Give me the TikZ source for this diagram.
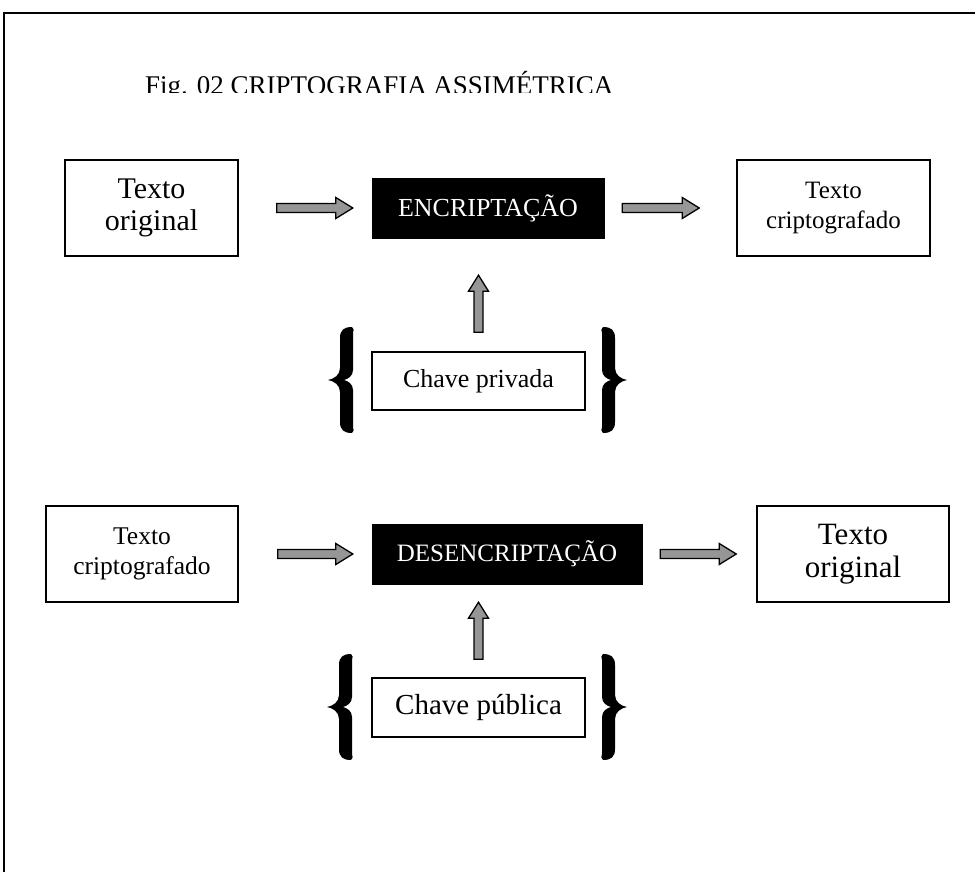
\documentclass[tikz,border=0pt]{standalone}
\usepackage{fontspec}
\setmainfont{Liberation Serif}
\definecolor{arrgray}{RGB}{150,150,150}
\tikzset{
  box/.style={draw=black, line width=1.5pt, fill=white, inner sep=0pt, align=center},
  blackbox/.style={draw=black, fill=black, text=white, inner sep=0pt, align=center},
  barrow/.style={draw=black, line width=1.3pt, fill=arrgray, line join=miter},
  lbr/.pic={
    \fill (24,-53) .. controls (16,-53) and (12,-50) .. (12,-42) -- (12,-12)
      .. controls (12,-5) and (6,-1) .. (0,0) .. controls (6,1) and (12,5) .. (12,12)
      -- (12,42) .. controls (12,50) and (16,53) .. (24,53)
      .. controls (26,52) and (26,49) .. (25,47)
      .. controls (25,46) and (25,44) .. (25,42) -- (25,10)
      .. controls (25,4) and (20,1) .. (16,0) .. controls (20,-1) and (25,-4) .. (25,-10)
      -- (25,-42) .. controls (25,-44) and (25,-46) .. (25,-47)
      .. controls (26,-49) and (26,-52) .. (24,-53) -- cycle;
  }
}
\newcommand\harr[2]{\draw[barrow] ([yshift=-4.5]#1) -- ([xshift=-17,yshift=-4.5]#2) -- ([xshift=-17,yshift=-10.5]#2) -- (#2) -- ([xshift=-17,yshift=10.5]#2) -- ([xshift=-17,yshift=4.5]#2) -- ([yshift=4.5]#1) -- cycle;}
\newcommand\varr[2]{\draw[barrow] ([xshift=-4.5]#1) -- ([xshift=-4.5,yshift=-16]#2) -- ([xshift=-10,yshift=-16]#2) -- (#2) -- ([xshift=10,yshift=-16]#2) -- ([xshift=4.5,yshift=-16]#2) -- ([xshift=4.5]#1) -- cycle;}
\begin{document}
\begin{tikzpicture}[x=1pt,y=-1pt]
\useasboundingbox (0,0) rectangle (975,872);
% frame
\draw[line width=2pt] (4,872) -- (4,13) -- (975,13);
% title (clipped at bottom)
\begin{scope}
\clip (0,0) rectangle (975,93);
\node[anchor=base west, inner sep=0pt, font=\fontsize{27}{30}\selectfont] (title) at (145,95) {Fig. 02 CRIPTOGRAFIA ASSIMÉTRICA};
\end{scope}
% top row
\node[box, minimum width=173, minimum height=96, font=\fontsize{30}{32}\selectfont] (tl) at (151.5,208) {Texto\\original};
\node[blackbox, minimum width=232, minimum height=60, font=\fontsize{26}{28}\selectfont] (enc) at (488,208) {ENCRIPTAÇÃO};
\node[box, minimum width=193, minimum height=96, font=\fontsize{25}{30}\selectfont] (tc) at (833.5,208) {Texto\\criptografado};
\node[box, minimum width=213, minimum height=58, font=\fontsize{26}{28}\selectfont] (priv) at (478.5,381) {Chave privada};
% bottom row
\node[box, minimum width=192, minimum height=96, font=\fontsize{25.5}{30}\selectfont] (bc) at (142,554) {Texto\\criptografado};
\node[blackbox, minimum width=270, minimum height=60, font=\fontsize{25}{28}\selectfont] (dec) at (507,554) {DESENCRIPTAÇÃO};
\node[box, minimum width=192, minimum height=96, font=\fontsize{31}{33}\selectfont] (bo) at (853,554) {Texto\\original};
\node[box, minimum width=213, minimum height=59, font=\fontsize{29}{31}\selectfont] (pub) at (478.5,707.5) {Chave pública};
% arrow endpoints
\coordinate (a1s) at ([xshift=38]tl.east);
\coordinate (a1e) at ([xshift=-19]enc.west);
\coordinate (a2s) at ([xshift=18]enc.east);
\coordinate (a2e) at ([xshift=-37]tc.west);
\coordinate (u1s) at ([yshift=19]priv.north);
\coordinate (u1x) at (priv.north |- enc.south);
\coordinate (u1e) at ([yshift=-37]u1x);
\coordinate (b1s) at ([xshift=39]bc.east);
\coordinate (b1e) at ([xshift=-19]dec.west);
\coordinate (b2s) at ([xshift=18]dec.east);
\coordinate (b2e) at ([xshift=-20]bo.west);
\coordinate (u2s) at ([yshift=18]pub.north);
\coordinate (u2x) at (pub.north |- dec.south);
\coordinate (u2e) at ([yshift=-18]u2x);
\harr{a1s}{a1e}
\harr{a2s}{a2e}
\varr{u1s}{u1e}
\harr{b1s}{b1e}
\harr{b2s}{b2e}
\varr{u2s}{u2e}
% braces
\pic at (328,380) {lbr};
\pic[xscale=-1] at (627,380) {lbr};
\pic at (327,707) {lbr};
\pic[xscale=-1] at (627,707) {lbr};
\end{tikzpicture}
\end{document}
